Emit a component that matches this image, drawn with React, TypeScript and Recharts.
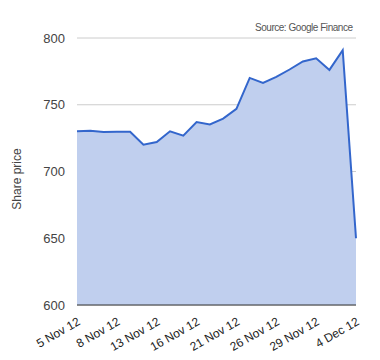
import { AreaChart, Area, XAxis, YAxis, CartesianGrid } from 'recharts';

const dates = [
  '5 Nov 12', '6 Nov 12', '7 Nov 12', '8 Nov 12', '9 Nov 12', '12 Nov 12', '13 Nov 12',
  '14 Nov 12', '15 Nov 12', '16 Nov 12', '19 Nov 12', '20 Nov 12', '21 Nov 12', '22 Nov 12',
  '23 Nov 12', '26 Nov 12', '27 Nov 12', '28 Nov 12', '29 Nov 12', '30 Nov 12', '3 Dec 12', '4 Dec 12',
];
const prices = [
  730.1, 730.6, 729.6, 729.8, 729.8, 720.1, 722.1, 730.1, 726.8, 737.1, 735.3,
  739.6, 746.9, 770.1, 766.4, 770.9, 776.4, 782.4, 784.8, 776.1, 790.8, 650,
];
const yTicks = [600, 650, 700, 750, 800];

const data = dates.map((date, i) => ({ date, price: prices[i] }));

const FONT = '"Liberation Sans", Arial, sans-serif';

// rotated date labels, end of text sits just right of the tick
function DateTick({ x, y, payload }: any) {
  const tx = x + 4;
  const ty = y + 17;
  return (
    <text x={tx} y={ty} textAnchor="end" fontSize={12} fill="#222" fontFamily={FONT}
      transform={`rotate(-30, ${tx}, ${ty})`}>
      {payload.value}
    </text>
  );
}

export default function App() {
  return (
    <div style={{ position: 'absolute', left: 0, top: 0, width: 380, height: 360, background: '#fff' }}>
      <AreaChart width={380} height={360} data={data}
        margin={{ top: 38, right: 24, left: 0, bottom: 0 }}>
        <CartesianGrid vertical={false} stroke="#ccc" />
        <XAxis dataKey="date" interval={2} height={55} tickLine={false} tickSize={0}
          axisLine={{ stroke: '#333', strokeWidth: 1 }} tick={<DateTick />} />
        <YAxis domain={[600, 800]} ticks={yTicks} width={77} axisLine={false} tickLine={false}
          tickSize={0} tickMargin={12}
          tick={{ fontSize: 13, fill: '#444', fontFamily: FONT }} />
        <Area type="linear" dataKey="price" stroke="#3366cc" strokeWidth={2}
          fill="#c0cfee" fillOpacity={1} baseValue={600} isAnimationActive={false} dot={false} activeDot={false} />
        <text x={21} y={179} transform="rotate(-90, 21, 179)" textAnchor="middle"
          fontSize={12} fill="#444" fontFamily={FONT}>Share price</text>
        <text x={353} y={31} textAnchor="end" fontSize={10} fill="#555" fontFamily={FONT}
          textLength={98} lengthAdjust="spacing">
          Source: Google Finance
        </text>
      </AreaChart>
    </div>
  );
}
